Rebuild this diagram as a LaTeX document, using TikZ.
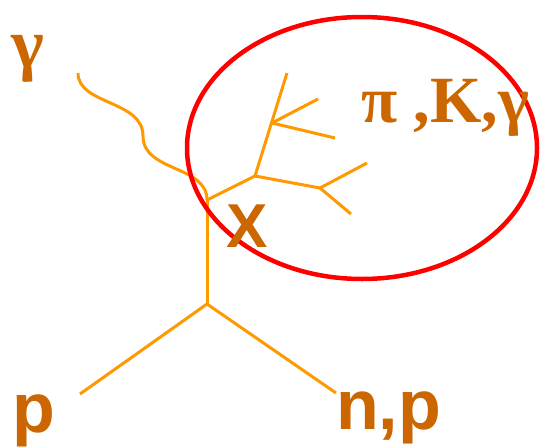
\documentclass[tikz,border=0pt]{standalone}
\usepackage{fontspec}
\usetikzlibrary{shapes.geometric}
\setmainfont{Liberation Serif}
\setsansfont{Liberation Sans}
\definecolor{lineor}{HTML}{FF9900}
\definecolor{txtor}{HTML}{CC6600}
\definecolor{ringred}{HTML}{FF0000}
\begin{document}
\begin{tikzpicture}[x=1pt,y=-1pt,
  track/.style={draw=lineor,line width=3pt},
  ring/.style={draw=ringred,line width=4.5pt},
  lbl/.style={text=txtor,inner sep=0pt,anchor=base west},
  sanslbl/.style={lbl,font=\sffamily\bfseries\fontsize{70}{70}\selectfont},
  seriflbl/.style={lbl,font=\rmfamily\bfseries\fontsize{66}{66}\selectfont}]
\useasboundingbox (0,0) rectangle (540,447);
% vertices
\coordinate (g0) at (78,73);
\coordinate (gm) at (143,136);
\coordinate (xv) at (207,200);
\coordinate (vtx) at (207,304);
\coordinate (pe) at (80,394);
\coordinate (npe) at (336,393);
\coordinate (A) at (255,176);
\coordinate (T) at (287,73);
\coordinate (B) at (272,123);
\coordinate (b1) at (318,99);
\coordinate (b2) at (335,138);
\coordinate (C) at (320,188);
\coordinate (c1) at (367,163);
\coordinate (c2) at (351,214);
% tracks
\draw[track] (g0) .. controls (78,105) and (143,100) .. (gm)
                  .. controls (143,172) and (207,165) .. (xv);
\draw[track] (xv) -- (vtx);
\draw[track] (vtx) -- (pe);
\draw[track] (vtx) -- (npe);
\draw[track] (xv) -- (A);
\draw[track] (A) -- (T);
\draw[track] (B) -- (b1);
\draw[track] (B) -- (b2);
\draw[track] (A) -- (C);
\draw[track] (C) -- (c1);
\draw[track] (C) -- (c2);
% ring
\node[ring,ellipse,minimum width=350pt,minimum height=262pt,inner sep=0pt] (ringnode) at (362,148) {};
% labels
\node[seriflbl,font=\rmfamily\bfseries\fontsize{70}{70}\selectfont] (gam) at (11,67) {γ};
\node[seriflbl] (prod) at (361,122) {π ,K,γ};
\node[sanslbl,font=\sffamily\bfseries\fontsize{62}{62}\selectfont] (X) at (226,247) {X};
\node[sanslbl] (p) at (12,432) {p};
\node[sanslbl] (np) at (336,429) {n,p};
\end{tikzpicture}
\end{document}
